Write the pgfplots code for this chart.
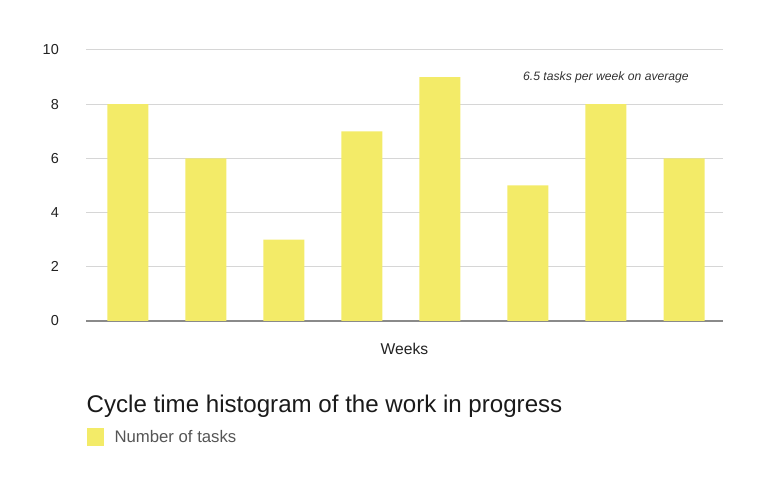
\documentclass[border=0pt]{standalone}
\usepackage{pgfplots}
\pgfplotsset{compat=1.18}
\usepackage{fontspec}
\setmainfont{Liberation Sans}

\definecolor{barY}{HTML}{F3EB68}
\definecolor{gridcol}{HTML}{D6D6D6}
\definecolor{axiscol}{HTML}{8A8A8A}
\definecolor{tickcol}{HTML}{222222}
\definecolor{legcol}{HTML}{555555}
\definecolor{titlecol}{HTML}{1A1A1A}
\definecolor{annocol}{HTML}{333333}

\begin{document}
\begin{tikzpicture}
\path[use as bounding box] (0,0) rectangle (768bp,491bp);
\begin{axis}[
    at={(86bp,170bp)}, anchor=south west,
    scale only axis,
    width=637bp, height=271bp,
    xmin=0.462, xmax=8.628,
    ymin=0, ymax=10,
    ytick={0,2,...,10},
    xtick=\empty,
    major tick length=0pt,
    axis lines*=left,
    y axis line style={draw=none},
    x axis line style={draw=axiscol, line width=2bp, -},
    ymajorgrids=true,
    grid style={gridcol, line width=1bp},
    /pgf/number format/assume math mode=true,
    yticklabel style={font=\fontsize{14.5}{16}\selectfont, text=tickcol,
        inner sep=0pt, anchor=east, xshift=-27bp},
    xlabel={Weeks},
    xlabel style={at={(axis description cs:0.5,0)}, anchor=base,
        yshift=-34bp, inner sep=0pt, font=\fontsize{15.7}{18}\selectfont, text=tickcol},
    legend style={at={(axis description cs:0.0016,-0.428)}, anchor=west,
        draw=none, fill=none, inner sep=0pt, outer sep=0pt,
        font=\fontsize{16.8}{19}\selectfont, text=legcol,
        nodes={inner sep=0pt}, column sep=11bp},
    legend cell align=left,
    legend image code/.code={\fill[barY] (0bp,-9bp) rectangle (16.5bp,9bp);},
]

\addplot[ybar, bar width=41bp, fill=barY, draw=none] coordinates {
(1,8)
(2,6)
(3,3)
(4,7)
(5,9)
(6.128,5)
(7.128,8)
(8.128,6)
};
\addlegendentry{Number of tasks}

\end{axis}

\node[anchor=base west, inner sep=0pt, text=annocol,
    font=\itshape\fontsize{12.2}{14}\selectfont] at (523bp,410bp)
    {6.5 tasks per week on average};
\node[anchor=base west, inner sep=0pt, text=titlecol,
    font=\fontsize{24.2}{28}\selectfont] at (86.5bp,78bp)
    {Cycle time histogram of the work in progress};
\end{tikzpicture}
\end{document}
